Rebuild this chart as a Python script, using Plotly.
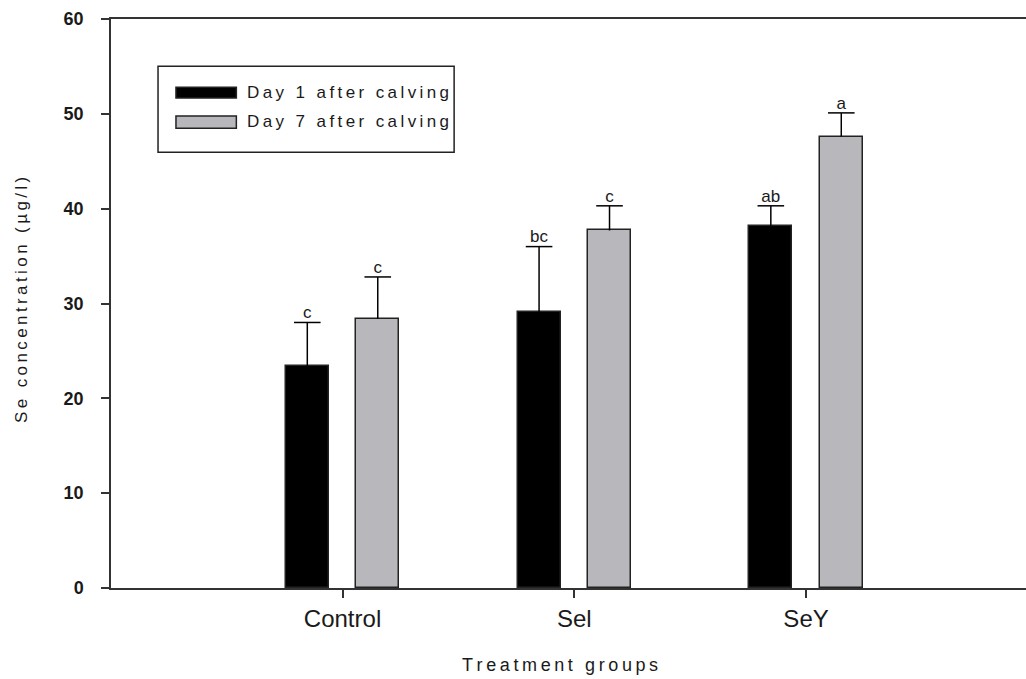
import plotly.graph_objects as go

# Selenium concentration by treatment group, measured on two days after calving
groups = ["Control", "Sel", "SeY"]
day1_mean = [23.4, 29.1, 38.2]
day1_sd = [4.6, 6.9, 2.1]
day1_letters = ["c", "bc", "ab"]
day7_mean = [28.4, 37.7, 47.6]
day7_sd = [4.4, 2.6, 2.5]
day7_letters = ["c", "c", "a"]
series_names = ["Day 1 after calving", "Day 7 after calving"]
y_ticks = [0, 10, 20, 30, 40, 50, 60]
x_title = "Treatment groups"
y_title = "Se concentration (\u00b5g/l)"

BLACK = "#000000"
GREY = "#b8b8bc"
EDGE = "#222222"
TEXT = "#1a1a1a"
FONT = "Liberation Sans, Arial, sans-serif"

OFFSET = 0.152   # half distance between paired bars (category units)
BAR_W = 0.185

def spaced(s, sep="\u2009"):
    return sep.join(s)

idx = list(range(len(groups)))
x1 = [i - OFFSET for i in idx]
x7 = [i + OFFSET for i in idx]

fig = go.Figure()
for xs, means, sds, letters, color, name in [
    (x1, day1_mean, day1_sd, day1_letters, BLACK, series_names[0]),
    (x7, day7_mean, day7_sd, day7_letters, GREY, series_names[1]),
]:
    fig.add_trace(go.Bar(
        x=xs, y=means, width=BAR_W, name=name, showlegend=False,
        marker=dict(color=color, line=dict(color=EDGE, width=1.5)),
    ))
    tops = [m + s for m, s in zip(means, sds)]
    # upward-only error whiskers with caps
    wx, wy = [], []
    for x, m, t in zip(xs, means, tops):
        wx += [x, x, None]
        wy += [m, t, None]
    fig.add_trace(go.Scatter(
        x=wx, y=wy, mode="lines", showlegend=False, hoverinfo="skip",
        line=dict(color=BLACK, width=1.5),
    ))
    fig.add_trace(go.Scatter(
        x=xs, y=tops, mode="markers", showlegend=False,
        marker=dict(symbol="line-ew", size=19, line=dict(color=BLACK, width=1.5)),
    ))
    # significance letters above each whisker
    fig.add_trace(go.Scatter(
        x=xs, y=tops, mode="text", showlegend=False,
        text=letters, textposition="top center",
        textfont=dict(family=FONT, size=17, color=TEXT),
    ))

# Legend box drawn in paper coordinates
fig.add_shape(type="rect", xref="paper", yref="paper",
              x0=0.0514, x1=0.375, y0=0.766, y1=0.917,
              line=dict(color="#222", width=1.5), fillcolor="white")
for (yy0, yy1, col, name, ty) in [
    (0.861, 0.880, BLACK, series_names[0], 0.871),
    (0.808, 0.8295, GREY, series_names[1], 0.819),
]:
    fig.add_shape(type="rect", xref="paper", yref="paper",
                  x0=0.071, x1=0.137, y0=yy0, y1=yy1,
                  line=dict(color=EDGE, width=1.5), fillcolor=col)
    fig.add_annotation(xref="paper", yref="paper", x=0.1464, y=ty,
                       xanchor="left", yanchor="middle", showarrow=False,
                       text=spaced(name),
                       font=dict(family=FONT, size=17, color=TEXT))

# Axis titles
fig.add_annotation(xref="paper", yref="paper", x=0.4907, y=-0.1353,
                   xanchor="center", yanchor="middle", showarrow=False,
                   text=spaced(x_title),
                   font=dict(family=FONT, size=18, color=TEXT))
fig.add_annotation(xref="paper", yref="paper", x=-0.0984, y=0.506,
                   xanchor="center", yanchor="middle", showarrow=False,
                   textangle=-90, text=spaced(y_title),
                   font=dict(family=FONT, size=17, color=TEXT))

fig.update_layout(
    width=1026, height=679,
    margin=dict(l=111, r=0, t=19, b=91),
    plot_bgcolor="white", paper_bgcolor="white",
    font=dict(family=FONT, color=TEXT),
    bargap=0,
)
fig.update_xaxes(
    range=[-0.999, 2.949], tickvals=idx, ticktext=groups,
    showline=True, linecolor="#333", linewidth=1.5, mirror=True,
    ticks="outside", ticklen=8, tickwidth=1.5, tickcolor="#333",
    showgrid=False, zeroline=False,
    tickfont=dict(family=FONT, size=24, color=TEXT),
)
fig.update_yaxes(
    range=[0, 60], tickvals=y_ticks,
    showline=True, linecolor="#333", linewidth=1.5, mirror=False,
    ticks="outside", ticklen=8, tickwidth=1.5, tickcolor="#333",
    showgrid=False, zeroline=False, ticklabelstandoff=14,
    tickfont=dict(family=FONT, size=18, color=TEXT, weight="bold"),
)

fig.write_html("out.html")
